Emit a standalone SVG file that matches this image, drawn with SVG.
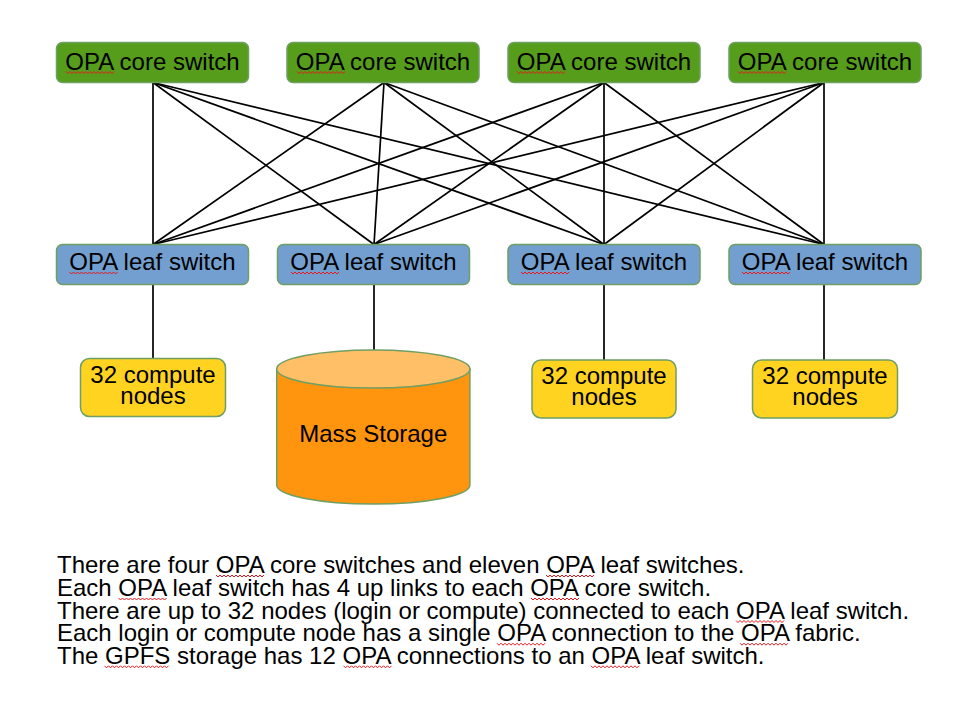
<svg xmlns="http://www.w3.org/2000/svg" xmlns:xlink="http://www.w3.org/1999/xlink" width="974" height="709" viewBox="0 0 974 709">
<style>
text{font-family:"Liberation Sans",Arial,sans-serif;font-size:24px;fill:#000}
.box text{text-anchor:middle}
#caption text{font-size:24px}
.core rect{fill:#579d1c;stroke:#6e9f63;stroke-width:1.5}
.leaf rect{fill:#729fcf;stroke:#6e9f63;stroke-width:1.5}
.cn rect{fill:#ffd320;stroke:#6e9f63;stroke-width:1.5}
#connectors line{stroke:#000;stroke-width:1.7}
.sq{fill:none;stroke:#e8161b;stroke-width:1}
</style>
<defs>
<path id="sqOPA" class="sq" d="M0,0 l2,2 2,-2 2,2 2,-2 2,2 2,-2 2,2 2,-2 2,2 2,-2 2,2 2,-2 2,2 2,-2 2,2 2,-2 2,2 2,-2 2,2 2,-2 2,2 2,-2 2,2 2,-2"/>
<path id="sqGPFS" class="sq" d="M0,0 l2,2 2,-2 2,2 2,-2 2,2 2,-2 2,2 2,-2 2,2 2,-2 2,2 2,-2 2,2 2,-2 2,2 2,-2 2,2 2,-2 2,2 2,-2 2,2 2,-2 2,2 2,-2 2,2 2,-2 2,2 2,-2 2,2 2,-2 2,2 2,-2"/>
</defs>
<rect width="974" height="709" fill="#fff"/>
<g id="connectors">
<line x1="153" y1="82.5" x2="153" y2="244.5"/>
<line x1="153" y1="82.5" x2="374" y2="244.5"/>
<line x1="153" y1="82.5" x2="604" y2="244.5"/>
<line x1="153" y1="82.5" x2="824" y2="244.5"/>
<line x1="384" y1="82.5" x2="153" y2="244.5"/>
<line x1="384" y1="82.5" x2="374" y2="244.5"/>
<line x1="384" y1="82.5" x2="604" y2="244.5"/>
<line x1="384" y1="82.5" x2="824" y2="244.5"/>
<line x1="604" y1="82.5" x2="153" y2="244.5"/>
<line x1="604" y1="82.5" x2="374" y2="244.5"/>
<line x1="604" y1="82.5" x2="604" y2="244.5"/>
<line x1="604" y1="82.5" x2="824" y2="244.5"/>
<line x1="824" y1="82.5" x2="153" y2="244.5"/>
<line x1="824" y1="82.5" x2="374" y2="244.5"/>
<line x1="824" y1="82.5" x2="604" y2="244.5"/>
<line x1="824" y1="82.5" x2="824" y2="244.5"/>
<line x1="153" y1="284.5" x2="153" y2="358.5"/>
<line x1="374" y1="284.5" x2="374" y2="351"/>
<line x1="604" y1="284.5" x2="604" y2="360"/>
<line x1="824" y1="284.5" x2="824" y2="360"/>
</g>
<g id="core1" class="box core"><rect x="56.5" y="42.5" width="192" height="40" rx="6"/><text x="152.5" y="69.5">OPA core switch</text><use xlink:href="#sqOPA" x="66" y="71.5"/></g>
<g id="core2" class="box core"><rect x="287" y="42.5" width="192" height="40" rx="6"/><text x="383" y="69.5">OPA core switch</text><use xlink:href="#sqOPA" x="297" y="71.5"/></g>
<g id="core3" class="box core"><rect x="508" y="42.5" width="192" height="40" rx="6"/><text x="604" y="69.5">OPA core switch</text><use xlink:href="#sqOPA" x="517" y="71.5"/></g>
<g id="core4" class="box core"><rect x="729" y="42.5" width="192" height="40" rx="6"/><text x="825" y="69.5">OPA core switch</text><use xlink:href="#sqOPA" x="738" y="71.5"/></g>
<g id="leaf1" class="box leaf"><rect x="56.5" y="244.5" width="192" height="40" rx="6"/><text x="152.5" y="270.3">OPA leaf switch</text><use xlink:href="#sqOPA" x="69.5" y="272"/></g>
<g id="leaf2" class="box leaf"><rect x="277.5" y="244.5" width="192" height="40" rx="6"/><text x="373.5" y="270.3">OPA leaf switch</text><use xlink:href="#sqOPA" x="291" y="272"/></g>
<g id="leaf3" class="box leaf"><rect x="508" y="244.5" width="192" height="40" rx="6"/><text x="604" y="270.3">OPA leaf switch</text><use xlink:href="#sqOPA" x="521" y="272"/></g>
<g id="leaf4" class="box leaf"><rect x="729" y="244.5" width="192" height="40" rx="6"/><text x="825" y="270.3">OPA leaf switch</text><use xlink:href="#sqOPA" x="742" y="272"/></g>
<g id="compute1" class="box cn"><rect x="80.5" y="358.5" width="145" height="58" rx="9"/><text x="153" y="382.5">32 compute<tspan x="153" dy="21">nodes</tspan></text></g>
<g id="storage" class="box">
<path d="M276.7,369 L276.7,485 A96.6,19 0 0 0 469.9,485 L469.9,369 Z" fill="#ff950e" stroke="#6e9f63" stroke-width="1.5"/>
<ellipse cx="373.3" cy="369" rx="96.6" ry="19" fill="#ffbf66" stroke="#6e9f63" stroke-width="1.5"/>
<text x="373.3" y="441.5">Mass Storage</text>
</g>
<g id="compute3" class="box cn"><rect x="532" y="360" width="144" height="58" rx="9"/><text x="604" y="384">32 compute<tspan x="604" dy="20.5">nodes</tspan></text></g>
<g id="compute4" class="box cn"><rect x="752.5" y="360" width="145" height="58" rx="9"/><text x="825" y="384">32 compute<tspan x="825" dy="20.5">nodes</tspan></text></g>
<g id="caption">
<text x="57" y="573">There are four OPA core switches and eleven OPA leaf switches.<tspan x="57" dy="23">Each OPA leaf switch has 4 up links to each OPA core switch.</tspan><tspan x="57" dy="22.5">There are up to 32 nodes (login or compute) connected to each OPA leaf switch.</tspan><tspan x="57" dy="22.7">Each login or compute node has a single OPA connection to the OPA fabric.</tspan><tspan x="57" dy="22.6">The GPFS storage has 12 OPA connections to an OPA leaf switch.</tspan></text>
<use xlink:href="#sqOPA" x="216" y="575"/>
<use xlink:href="#sqOPA" x="546" y="575"/>
<use xlink:href="#sqOPA" x="118.5" y="598"/>
<use xlink:href="#sqOPA" x="531" y="598"/>
<use xlink:href="#sqOPA" x="736" y="620.5"/>
<use xlink:href="#sqOPA" x="497" y="643.2"/>
<use xlink:href="#sqOPA" x="740" y="643.2"/>
<use xlink:href="#sqGPFS" x="104.5" y="665.8"/>
<use xlink:href="#sqOPA" x="343.5" y="665.8"/>
<use xlink:href="#sqOPA" x="591" y="665.8"/>
</g>
</svg>
